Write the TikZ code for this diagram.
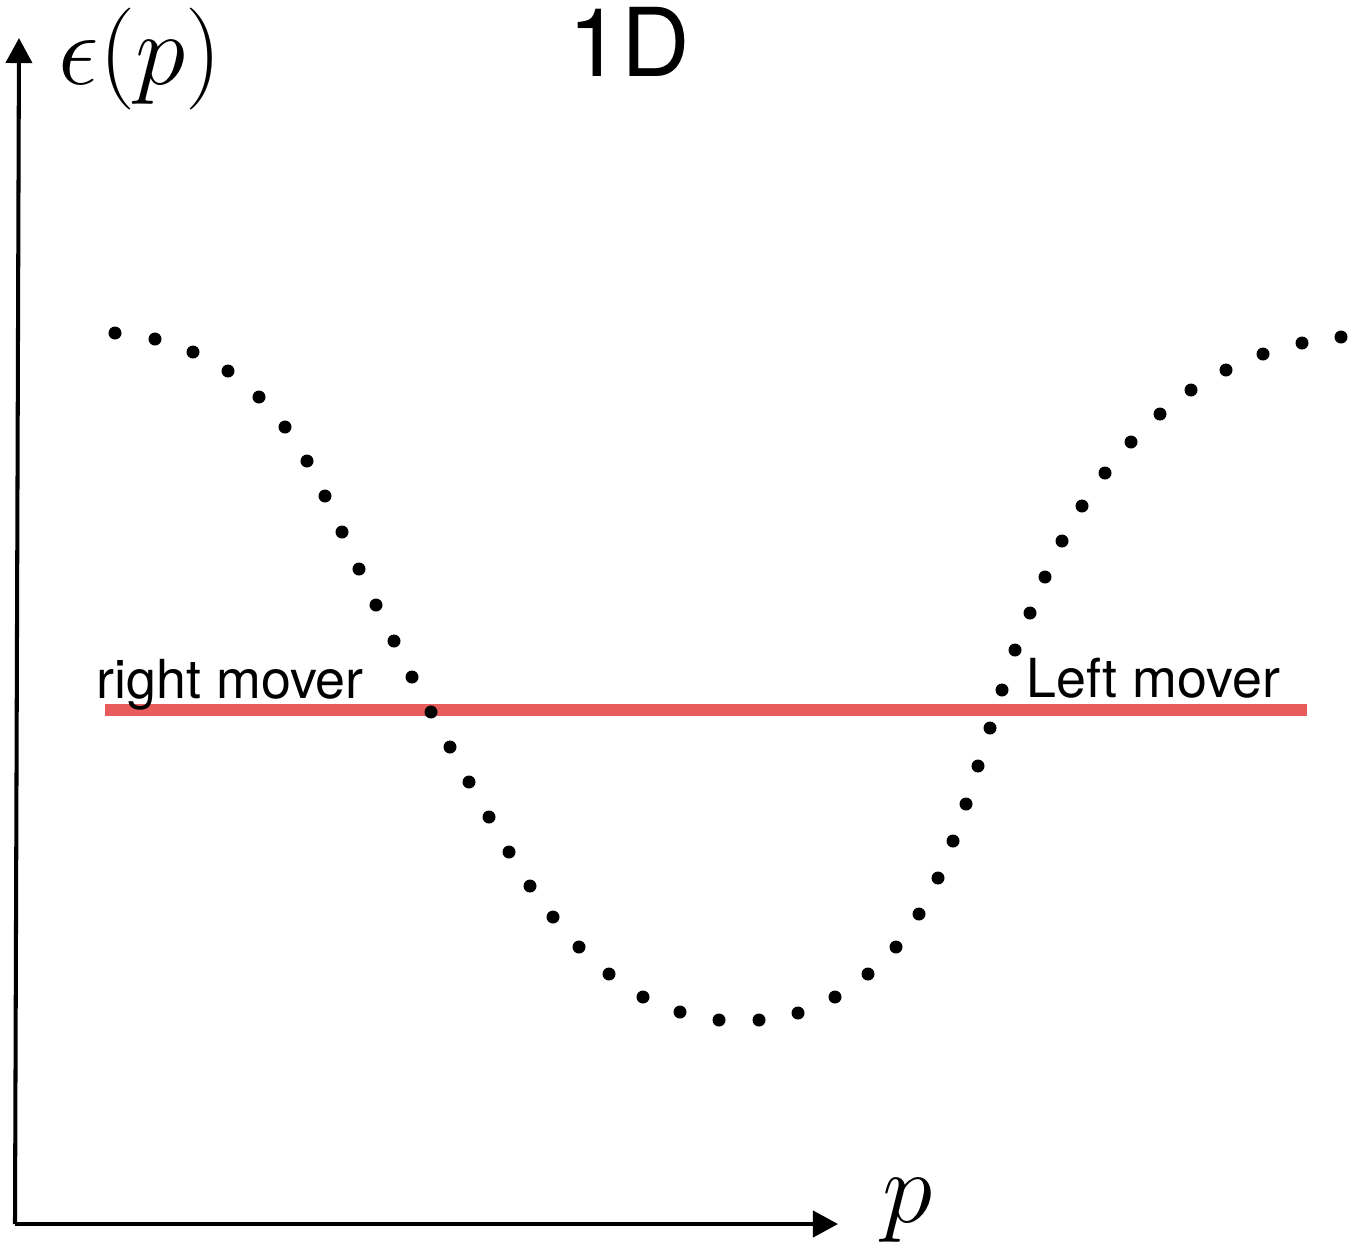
\RequirePackage{fix-cm}
\documentclass[tikz,border=0pt]{standalone}
\usepackage{amsmath}
\usepackage{fontspec}
\setsansfont{TeX Gyre Heros}
\usepackage{tikz}
\usetikzlibrary{arrows.meta}

\definecolor{fermi}{RGB}{232,92,92}

\begin{document}
\begin{tikzpicture}[
  x=0.01cm, y=-0.01cm,
  >={Triangle[length=2.5mm, width=2.6mm]},
  ax/.style={->, line width=1.15pt},
  lvl/.style={fermi, line width=3.6pt},
  dot/.style={fill=black},
  lb/.style={font=\sffamily\fontsize{15.3}{17}\selectfont, inner sep=0pt},
  mth/.style={font=\fontsize{29}{34}\selectfont, inner sep=0pt},
]
\useasboundingbox (0,0) rectangle (1348,1244);

\coordinate (o) at (15,1224);
\coordinate (ytop) at (19,38);
\coordinate (xend) at (838,1224);
\coordinate (fl) at (105,710);
\coordinate (fr) at (1307,710);

% axes
\draw[ax] (o) -- (ytop);
\draw[ax] (o) -- (xend);
\node[mth, anchor=base west] (eps) at (58,84) {$\epsilon(p)$};
\node[mth, anchor=base west] (plab) at (882,1222) {$p$};
\node[inner sep=0pt, anchor=base west, font=\sffamily\fontsize{27}{30}\selectfont]
     (dim) at (568,76) {1D};

% Fermi level
\draw[lvl] (fl) -- (fr);
\node[lb, anchor=base west] (rm) at (96,698) {right mover};
\node[lb, anchor=base west] (lm) at (1026,697) {Left mover};

% dispersion
\foreach \px/\py in {115/333,155/339,193/352,228/371,259/397,285/427,307/461,
    325/496,342/532,359/569,376/605,394/641,412/677,431/712,450/747,469/782,
    489/817,509/852,530/886,553/917,579/947,609/974,643/997,680/1012,719/1020,
    759/1020,798/1013,835/997,868/974,896/947,919/914,938/878,953/841,966/804,
    978/766,990/728,1002/690,1015/650,1030/613,1045/577,1062/541,1082/506,
    1105/473,1131/442,1160/414,1191/390,1226/370,1263/354,1302/343,1341/337}
  \fill[dot] (\px,\py) circle (0.065cm);

\end{tikzpicture}
\end{document}
